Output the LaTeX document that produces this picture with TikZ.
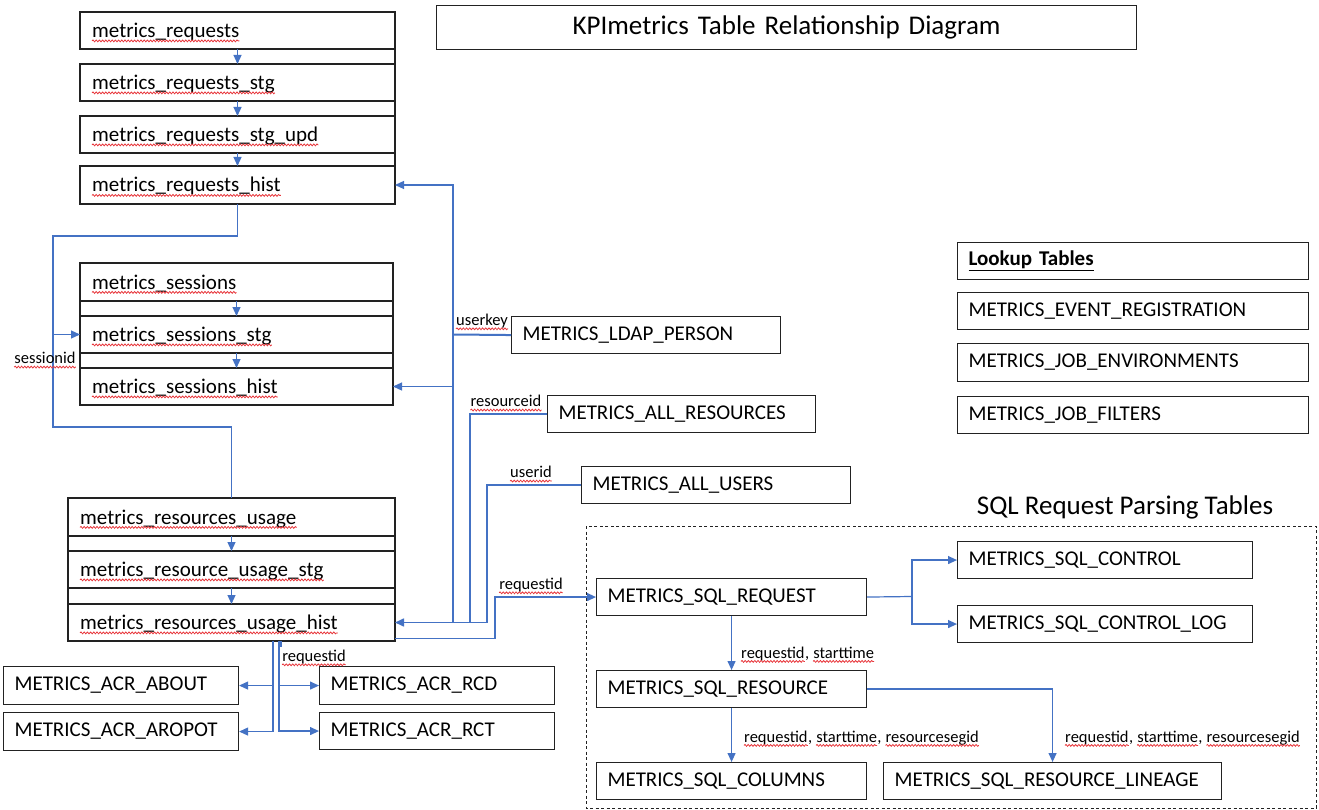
\documentclass[tikz,border=0pt]{standalone}
\usepackage{fontspec}
\setmainfont{Carlito}
\usetikzlibrary{arrows.meta,decorations.pathmorphing}
\definecolor{cblue}{HTML}{4472C4}
\definecolor{bline}{HTML}{222222}
\definecolor{sqred}{HTML}{E8383D}
\newcommand\tfont{\fontsize{21}{24}\selectfont}
\newcommand\lfont{\fontsize{16.5}{18}\selectfont}
\newcommand\sq[1]{\draw[squig] ([yshift=-3.4pt]#1.base west) -- ([yshift=-3.4pt]#1.base east);}
\tikzset{
  tbl/.style={draw=bline, line width=1.1pt, anchor=north west, inner xsep=11pt, inner ysep=0pt,
    align=left, font=\tfont},
  frame/.style={draw=bline, line width=1.1pt, anchor=north west, inner sep=0pt, outer sep=0pt},
  txt/.style={inner sep=0pt, anchor=base west, font=\tfont},
  boxline/.style={draw=bline, line width=1.1pt},
  conn/.style={draw=cblue, line width=1.2pt},
  arr/.style={conn, -{Triangle[length=9pt,width=8pt]}},
  lbl/.style={inner sep=0pt, font=\lfont},
  lblw/.style={inner sep=0pt, font=\lfont, anchor=base west},
  big/.style={inner sep=0pt, font=\fontsize{27}{30}\selectfont},
  squig/.style={draw=sqred, line width=0.8pt, decorate,
    decoration={snake, amplitude=0.9pt, segment length=3.2pt}}
}
\begin{document}
\begin{tikzpicture}[x=1pt,y=-1pt]
\useasboundingbox (0,0) rectangle (1319,810);
\fill[white] (0,0) rectangle (1319,810);

% title
\node[tbl, align=center, text width=678pt, minimum height=44pt, font=\fontsize{27}{30}\selectfont] (title) at (436,5) {KPImetrics Table Relationship Diagram};

% requests
\node[frame, minimum width=315pt, minimum height=37pt] (req) at (80,12) {};
\node[frame, minimum width=315pt, minimum height=37pt] (reqstg) at (80,64) {};
\node[frame, minimum width=315pt, minimum height=37pt] (requpd) at (80,116) {};
\node[frame, minimum width=315pt, minimum height=38pt] (reqhist) at (80,166) {};
\draw[boxline] (req.south east) -- (reqstg.north east) (reqstg.south east) -- (requpd.north east)
  (requpd.south east) -- (reqhist.north east);
\node[txt] (reqT) at ([xshift=12pt,yshift=-7pt]req.west) {metrics\_requests};
\node[txt] (reqstgT) at ([xshift=12pt,yshift=-7pt]reqstg.west) {metrics\_requests\_stg};
\node[txt] (requpdT) at ([xshift=12pt,yshift=-7pt]requpd.west) {metrics\_requests\_stg\_upd};
\node[txt] (reqhistT) at ([xshift=12pt,yshift=-7pt]reqhist.west) {metrics\_requests\_hist};
\sq{reqT}\sq{reqstgT}\sq{requpdT}\sq{reqhistT}

% sessions
\node[frame, minimum width=313pt, minimum height=38pt] (ses) at (80,263) {};
\node[frame, minimum width=313pt, minimum height=37pt] (sesstg) at (80,316) {};
\node[frame, minimum width=313pt, minimum height=37pt] (seshist) at (80,368) {};
\draw[boxline] (ses.south west) -- (sesstg.north west) (sesstg.south west) -- (seshist.north west)
  (ses.south east) -- (sesstg.north east) (sesstg.south east) -- (seshist.north east);
\node[txt] (sesT) at ([xshift=12pt,yshift=-7pt]ses.west) {metrics\_sessions};
\node[txt] (sesstgT) at ([xshift=12pt,yshift=-7pt]sesstg.west) {metrics\_sessions\_stg};
\node[txt] (seshistT) at ([xshift=12pt,yshift=-7pt]seshist.west) {metrics\_sessions\_hist};
\sq{sesT}\sq{sesstgT}\sq{seshistT}

% resources usage
\node[frame, minimum width=327pt, minimum height=38pt] (ru) at (68,498) {};
\node[frame, minimum width=327pt, minimum height=37pt] (rustg) at (68,551) {};
\node[frame, minimum width=327pt, minimum height=37pt] (ruhist) at (68,604) {};
\draw[boxline] (ru.south west) -- (rustg.north west) (rustg.south west) -- (ruhist.north west)
  (ru.south east) -- (rustg.north east) (rustg.south east) -- (ruhist.north east);
\node[txt] (ruT) at ([xshift=12pt,yshift=-7pt]ru.west) {metrics\_resources\_usage};
\node[txt] (rustgT) at ([xshift=12pt,yshift=-7pt]rustg.west) {metrics\_resource\_usage\_stg};
\node[txt] (ruhistT) at ([xshift=12pt,yshift=-7pt]ruhist.west) {metrics\_resources\_usage\_hist};
\sq{ruT}\sq{rustgT}\sq{ruhistT}

% ACR tables
\node[tbl, text width=213pt, minimum height=38pt] (about) at (3,666) {METRICS\_ACR\_ABOUT};
\node[tbl, text width=213pt, minimum height=38pt] (aropot) at (3,712) {METRICS\_ACR\_AROPOT};
\node[tbl, text width=213pt, minimum height=38pt] (rcd) at (319,666) {METRICS\_ACR\_RCD};
\node[tbl, text width=213pt, minimum height=37pt] (rct) at (319,712) {METRICS\_ACR\_RCT};

% middle lookups
\node[tbl, text width=247pt, minimum height=37pt] (ldap) at (511,316) {METRICS\_LDAP\_PERSON};
\node[tbl, text width=246pt, minimum height=37pt] (allres) at (547,395) {METRICS\_ALL\_RESOURCES};
\node[tbl, text width=247pt, minimum height=37pt] (allusers) at (581,466) {METRICS\_ALL\_USERS};

% lookup tables
\node[tbl, text width=329pt, minimum height=37pt] (lookup) at (957,242) {\textbf{\underline{Lookup Tables}}};
\node[tbl, text width=329pt, minimum height=37pt] (evreg) at (957,292) {METRICS\_EVENT\_REGISTRATION};
\node[tbl, text width=329pt, minimum height=38pt] (jobenv) at (957,343) {METRICS\_JOB\_ENVIRONMENTS};
\node[tbl, text width=329pt, minimum height=37pt] (jobfil) at (957,396) {METRICS\_JOB\_FILTERS};

% SQL parsing
\node[big] (sqltitle) at (1125,507) {SQL Request Parsing Tables};
\draw[bline, line width=0.9pt, dash pattern=on 3pt off 2.5pt] (586,526) rectangle (1316,808);
\node[tbl, text width=248pt, minimum height=37pt] (sqlreq) at (596,578) {METRICS\_SQL\_REQUEST};
\node[tbl, text width=273pt, minimum height=37pt] (sqlctl) at (957,541) {METRICS\_SQL\_CONTROL};
\node[tbl, text width=273pt, minimum height=37pt] (sqlctllog) at (957,605) {METRICS\_SQL\_CONTROL\_LOG};
\node[tbl, text width=248pt, minimum height=37pt] (sqlres) at (596,670) {METRICS\_SQL\_RESOURCE};
\node[tbl, text width=248pt, minimum height=37pt] (sqlcol) at (596,762) {METRICS\_SQL\_COLUMNS};
\node[tbl, text width=316pt, minimum height=37pt] (sqllin) at (883,762) {METRICS\_SQL\_RESOURCE\_LINEAGE};

% chain arrows
\draw[arr] (req.south) -- (reqstg.north);
\draw[arr] (reqstg.south) -- (requpd.north);
\draw[arr] (requpd.south) -- (reqhist.north);
\draw[arr] (ses.south) -- (sesstg.north);
\draw[arr] (sesstg.south) -- (seshist.north);
\draw[arr] (ru.south) -- (rustg.north);
\draw[arr] (rustg.south) -- (ruhist.north);

% sessionid
\coordinate (sj) at (53,334.5);
\draw[conn] (reqhist.south) |- (53,236) -- (53,427) -| (ru.north);
\draw[arr] (sj) -- (sesstg.west);
\node[lbl] (lsess) at (45,358) {sessionid};
\sq{lsess}

% userkey trunk
\coordinate (uk) at (453,334.5);
\draw[conn, line width=2pt] (ldap.west) -- (uk);
\draw[arr] (uk) |- (reqhist.east);
\draw[arr] (uk) |- (seshist.east);
\draw[arr, line width=1.6pt] (uk) |- (ruhist.east);
\node[lbl] (luk) at (482,321) {userkey};
\sq{luk}
\draw[conn] (allres.west) -| (470,622.5);
\node[lbl] (lres) at (506,401) {resourceid};
\sq{lres}
\draw[conn] (allusers.west) -| (487,622.5) -- (453,622.5);
\node[lbl] (luid) at (531,472) {userid};
\sq{luid}

% requestid to SQL request
\coordinate (rq0) at (395,638.5);
\draw[arr] (rq0) -- (495,638.5) |- (sqlreq.west);
\node[lbl] (lrq) at (531,585) {requestid};
\sq{lrq}

% ACR connectors
\coordinate (ab0) at (273,641);
\coordinate (ab1) at (279,641);
\draw[conn] (281,641) -- (281,647);
\draw[arr] (ab0) |- (about.east);
\draw[arr] (ab0) |- (aropot.east);
\draw[arr] (ab1) |- (rcd.west);
\draw[arr] (ab1) |- (rct.west);
\node[lbl] (lrq2) at (314,657) {requestid};
\sq{lrq2}

% SQL connectors
\coordinate (sj2) at (912,596.5);
\draw[conn] (sqlreq.east) -- (sj2);
\draw[arr] (sj2) |- (sqlctl.west);
\draw[arr] (sj2) |- (sqlctllog.west);
\draw[arr] (sqlreq.south) -- (sqlres.north);
\node[lblw] (l1a) at (741,658) {requestid};
\node[lblw] (l1c) at (l1a.base east) {,};
\node[lblw] (l1b) at ([xshift=3.7pt]l1c.base east) {starttime};
\sq{l1a}\sq{l1b}
\draw[arr] (sqlres.south) -- (sqlcol.north);
\node[lblw] (l2a) at (744,742) {requestid};
\node[lblw] (l2c) at (l2a.base east) {,};
\node[lblw] (l2b) at ([xshift=3.7pt]l2c.base east) {starttime};
\node[lblw] (l2d) at (l2b.base east) {,};
\node[lblw] (l2e) at ([xshift=3.7pt]l2d.base east) {resourcesegid};
\sq{l2a}\sq{l2b}\sq{l2e}
\draw[arr] (sqlres.east) -| (sqllin.north);
\node[lblw] (l3a) at (1065,742) {requestid};
\node[lblw] (l3c) at (l3a.base east) {,};
\node[lblw] (l3b) at ([xshift=3.7pt]l3c.base east) {starttime};
\node[lblw] (l3d) at (l3b.base east) {,};
\node[lblw] (l3e) at ([xshift=3.7pt]l3d.base east) {resourcesegid};
\sq{l3a}\sq{l3b}\sq{l3e}
\end{tikzpicture}
\end{document}
